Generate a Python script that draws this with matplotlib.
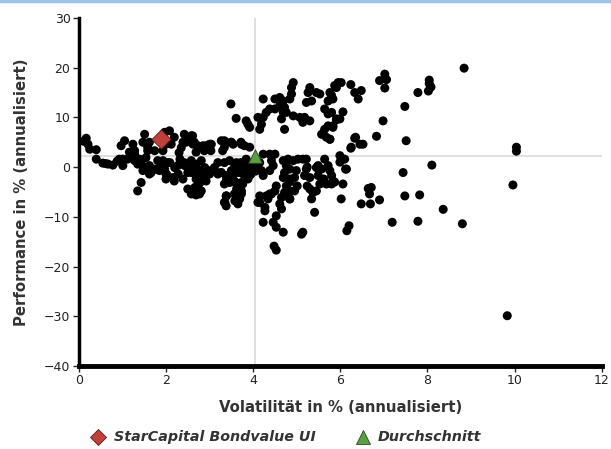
import matplotlib
matplotlib.use("Agg")
import matplotlib.pyplot as plt
from matplotlib.lines import Line2D

plt.rcParams['font.family'] = ['DejaVu Sans']

# Fund universe: (volatility %, performance %)
vol_right = [8.84, 10.04, 10.04, 9.96, 8.8, 9.83, 8.04, 8.04, 8.08, 8.02, 7.78, 7.02, 6.9, 7.06, 7.02,
             7.48, 6.98, 7.51, 6.83, 6.52, 6.45, 6.33, 6.24, 8.1, 7.44, 6.06, 6.64, 6.71, 6.67, 6.9,
             6.48, 6.69, 6.02, 7.48, 7.82, 8.36, 7.19, 7.78, 6.2, 6.15, 6.02, 6.24, 6.33, 6.41, 6.48,
             6.06, 5.99, 6.06, 6.12, 5.95, 5.87, 5.8, 5.83, 5.91, 5.83, 6.35, 5.76, 6.25]
perf_right = [19.9, 4.0, 3.2, -3.6, -11.4, -29.9, 17.5, 16.8, 16.1, 15.3, 15.0, 18.7, 17.4, 17.6, 15.9,
              12.2, 9.3, 5.3, 6.2, 4.6, 4.6, 5.8, 3.8, 0.4, -1.1, -3.4, -4.3, -4.1, -5.4, -6.6,
              -7.4, -7.4, -6.4, -5.8, -5.6, -8.5, -11.1, -10.9, -11.8, -12.8, 17.0, 16.6, 15.0, 13.7, 15.4,
              11.1, 9.7, 1.6, -0.4, 17.0, 16.4, 14.4, 13.7, 9.5, 8.0, 6.0, 5.6, 4.0]

vol_mid_up = [4.92, 4.88, 5.30, 5.26, 5.45, 5.53, 5.76, 5.91, 5.72, 4.23, 4.50, 4.61, 4.69, 4.84, 4.72,
              4.76, 4.38, 4.30, 4.23, 4.19, 4.15, 4.65, 4.72, 4.92, 5.07, 5.18, 5.30, 5.22, 5.34, 5.64,
              5.72, 5.80, 5.91, 5.72, 5.64, 5.57, 5.68, 5.76, 5.83, 4.11, 4.50, 4.61, 4.69, 4.88, 5.14]
perf_mid_up = [17.0, 16.0, 16.0, 15.0, 15.0, 14.7, 15.0, 16.0, 13.3, 13.7, 13.7, 14.0, 13.3, 13.7, 12.0,
               11.0, 11.7, 11.0, 10.0, 8.6, 7.6, 9.7, 7.6, 10.3, 10.0, 10.0, 9.3, 13.0, 13.3, 11.7,
               10.7, 11.0, 9.7, 8.3, 7.6, 6.6, 6.0, 5.6, 8.3, 10.0, 11.7, 12.3, 11.0, 14.7, 9.0]

vol_mid_low = [4.38, 4.50, 4.42, 4.46, 4.38, 4.69, 4.80, 4.92, 5.03, 5.14, 5.22, 4.76, 4.84, 4.72, 4.69,
               4.84, 4.99, 4.95, 5.22, 5.18, 5.30, 5.45, 5.64, 5.72, 5.76, 5.80, 5.83, 5.80, 5.99, 6.10,
               6.14, 4.53, 4.50, 4.38, 4.30, 4.76, 4.84, 4.72, 4.65, 4.11, 4.27, 4.23, 4.61, 4.65, 4.53,
               4.46, 4.53, 4.69, 4.84, 5.34, 5.45, 5.37, 5.53, 5.41, 5.14, 5.11, 4.48, 4.53,
               4.15, 4.19, 4.23, 4.15, 4.15, 4.27, 4.34, 4.42, 4.23, 4.08, 4.06,
               5.49, 5.57, 5.49, 5.62, 5.68, 5.87, 5.24, 5.24, 5.30, 5.01, 4.84, 4.95, 4.84, 5.99]
perf_mid_low = [2.6, 2.6, 1.3, 0.3, -0.7, 1.3, 1.6, 1.3, 1.6, 1.6, 1.6, 0.3, -0.4, -1.1, -2.1,
                -2.4, -0.7, -2.1, -0.4, -1.7, -2.1, -0.1, 1.6, 0.3, -0.7, -1.7, -2.8, -3.4, 2.3, 1.6,
                -0.4, -3.8, -4.8, -5.4, -5.8, -3.8, -4.8, -5.1, -6.1, -7.1, -8.8, -11.1, -7.4, -8.4, -9.8,
                -11.1, -12.1, -13.1, -6.4, -6.4, -4.8, -5.1, -3.4, -9.1, -13.1, -13.5, -15.9, -16.7,
                0.9, -0.7, -1.7, -5.8, -7.1, -8.1, -6.4, -5.4, 2.6, 0.6, -0.8,
                0.3, -0.4, -1.7, -2.4, -3.4, -3.0, 0.0, -3.8, -4.4, -3.8, -3.0, -4.8, -6.4, 1.0]

vol_left = [3.49, 3.61, 3.84, 3.88, 3.92, 0.17, 0.21, 0.25, 0.40, 0.40, 0.55, 0.67, 0.78, 0.97, 1.05,
            1.01, 0.93, 1.24, 1.28, 1.20, 1.51, 1.47, 1.62, 1.58, 2.08, 2.19, 2.12, 2.42, 2.50, 2.61,
            2.46, 2.65, 2.73, 2.81, 2.92, 3.00, 2.69, 2.88, 3.03, 3.34, 3.49, 3.34, 3.30, 3.72, 3.80,
            3.92, 1.43, 1.51, 1.62, 1.81, 1.93, 2.04, 1.62, 1.74, 1.85, 2.00, 2.00, 2.19, 2.27, 2.42,
            2.58, 2.65, 2.50, 2.77, 2.84, 2.69, 2.92, 2.73, 2.65, 2.77, 2.69, 3.03, 3.11, 3.19, 3.34,
            3.46, 3.57, 3.72, 3.84, 3.26, 3.38, 3.49, 3.61, 3.72, 3.84, 3.95, 3.34, 3.46, 3.57, 3.65,
            3.76, 3.88, 3.95, 3.38, 3.34, 3.38, 3.57, 3.69, 3.72, 1.43, 1.35, 2.50, 2.58,
            1.01, 1.12, 1.28, 1.39, 1.35, 1.16, 1.28, 1.54, 1.58, 1.47, 1.66, 1.89, 1.97, 1.74, 1.93,
            2.00, 1.97, 3.54, 3.62, 3.77, 3.88, 3.58, 3.69, 3.81, 3.92, 3.73, 3.62, 3.73, 3.58, 3.65,
            2.58, 2.39, 2.62, 2.85, 3.04, 3.27, 3.50, 3.73, 1.93, 2.09, 2.20, 2.32, 2.43, 2.58, 2.70,
            2.81, 2.89, 2.01, 2.16, 2.28, 2.39, 2.58, 2.70, 2.78, 2.85, 3.00, 2.66, 2.81, 3.19, 3.27,
            3.39, 3.50, 3.69, 3.77, 3.62, 3.39, 3.35, 3.62, 3.73, 0.11, 0.62, 0.88, 2.30, 2.35]
perf_left = [12.7, 9.8, 9.3, 8.6, 8.0, 5.8, 4.6, 3.6, 3.5, 1.6, 0.8, 0.6, 0.4, 4.3, 5.3,
             1.6, 1.6, 4.6, 3.3, 2.3, 6.6, 5.0, 5.0, 4.0, 7.3, 6.0, 4.6, 6.6, 6.0, 6.3,
             5.0, 5.0, 4.3, 4.0, 4.3, 4.6, 3.0, 3.3, 3.3, 5.3, 5.0, 4.0, 3.3, 5.0, 4.3,
             4.0, 0.9, -0.1, 0.3, 1.3, 0.6, 0.9, -1.4, -0.4, -0.7, -1.4, -2.4, -2.8, 0.3, 0.9,
             0.3, -0.7, -1.1, -0.7, -1.7, -2.4, -2.8, -3.8, -4.4, -5.4, -5.6, -0.7, -0.1, -1.4, 0.9,
             1.3, 0.6, 0.9, 1.6, -1.1, -1.7, -1.4, -1.1, -0.7, -0.4, -0.1, -3.4, -3.1, -2.8, -3.8,
             -3.4, -2.4, -1.4, -5.8, -7.1, -7.8, -5.4, -6.4, -5.1, -3.1, -4.8, -4.4, -5.4,
             0.3, 1.6, 1.3, 1.6, 0.6, 3.0, 2.6, 1.9, 3.3, -0.7, -1.1, 0.3, -0.4, 3.3, 3.3,
             4.6, 7.0, 4.6, 0.9, 0.6, 0.9, -0.7, -1.1, -0.4, -1.7, -3.1, -4.4, -5.4, -6.8, -7.4,
             6.3, 5.0, 4.6, 4.3, 4.6, 5.3, 5.0, 4.6, 1.3, 0.9, -0.1, 1.6, 0.3, 1.3, 0.6,
             1.3, -0.1, -1.4, -2.1, -1.4, -2.4, -1.1, -2.1, -3.1, -2.1, -1.4, -4.1, -4.8, 0.9, -1.1,
             -2.4, -0.7, 0.3, -1.4, -3.4, -5.8, -7.1, -6.4, -4.8, 5.2, 0.7, 1.2, 2.9, 3.9]

fund_name = "StarCapital Bondvalue UI"
fund_vol, fund_perf = [1.89], [5.6]
avg_name = "Durchschnitt"
avg_vol, avg_perf = [4.05], [2.25]

x_ticks = [0, 2, 4, 6, 8, 10, 12]
y_ticks = [-40, -30, -20, -10, 0, 10, 20, 30]

vol = vol_right + vol_mid_up + vol_mid_low + vol_left
perf = perf_right + perf_mid_up + perf_mid_low + perf_left

RED, RED_E = '#c0403c', '#5a1a18'
GREEN, GREEN_E = '#58a040', '#2a4a20'

fig = plt.figure(figsize=(6.11, 4.49), dpi=100)
ax = fig.add_axes([0.129, 0.185, 0.856, 0.775])
ax.set_xlim(0, 12)
ax.set_ylim(-40, 30)

# crosshair through the average
ax.axvline(avg_vol[0], color='#dcdcdc', lw=1.3, zorder=1)
ax.axhline(avg_perf[0], color='#dcdcdc', lw=1.3, zorder=1)

ax.scatter(vol, perf, s=42, color='black', edgecolors='none', zorder=3)
ax.scatter(fund_vol, fund_perf, marker='D', s=95, color=RED, edgecolors=RED_E, linewidths=0.6, zorder=5)
ax.scatter(avg_vol, avg_perf, marker='^', s=95, color=GREEN, edgecolors=GREEN_E, linewidths=0.6, zorder=5)

for s in ['top', 'right']:
    ax.spines[s].set_visible(False)
ax.spines['left'].set_linewidth(2.5)
ax.spines['bottom'].set_linewidth(3.5)

ax.set_xticks(x_ticks)
ax.set_yticks(y_ticks)
ax.set_yticklabels([str(v).replace('-', '\u2212') for v in y_ticks])
ax.tick_params(axis='both', direction='out', length=4, width=1, colors='#222222', labelsize=9, pad=2)

ax.set_xlabel("Volatilität in % (annualisiert)", fontsize=10.7, fontweight='bold', color='#333333', labelpad=9)
ax.set_ylabel("Performance in % (annualisiert)", fontsize=10.7, fontweight='bold', color='#333333', labelpad=11)

# legend below (manual placement)
leg_y = 1 - 437 / 449
fig.add_artist(Line2D([98 / 611], [leg_y], marker='D', ls='none', markersize=8.5, transform=fig.transFigure,
                      markerfacecolor=RED, markeredgecolor=RED_E, markeredgewidth=0.6))
fig.text(114 / 611, leg_y, fund_name, fontsize=10.3, fontweight='bold', style='italic', color='#333333',
         va='center', ha='left')
fig.add_artist(Line2D([363 / 611], [leg_y], marker='^', ls='none', markersize=9.5, transform=fig.transFigure,
                      markerfacecolor=GREEN, markeredgecolor=GREEN_E, markeredgewidth=0.6))
fig.text(378 / 611, leg_y, avg_name, fontsize=10.3, fontweight='bold', style='italic', color='#333333',
         va='center', ha='left')

# blue top border
fig.add_artist(Line2D([0, 1], [0.997, 0.997], transform=fig.transFigure, color='#9cc4ec', lw=2.5))

fig.savefig("out.png", dpi=100)
